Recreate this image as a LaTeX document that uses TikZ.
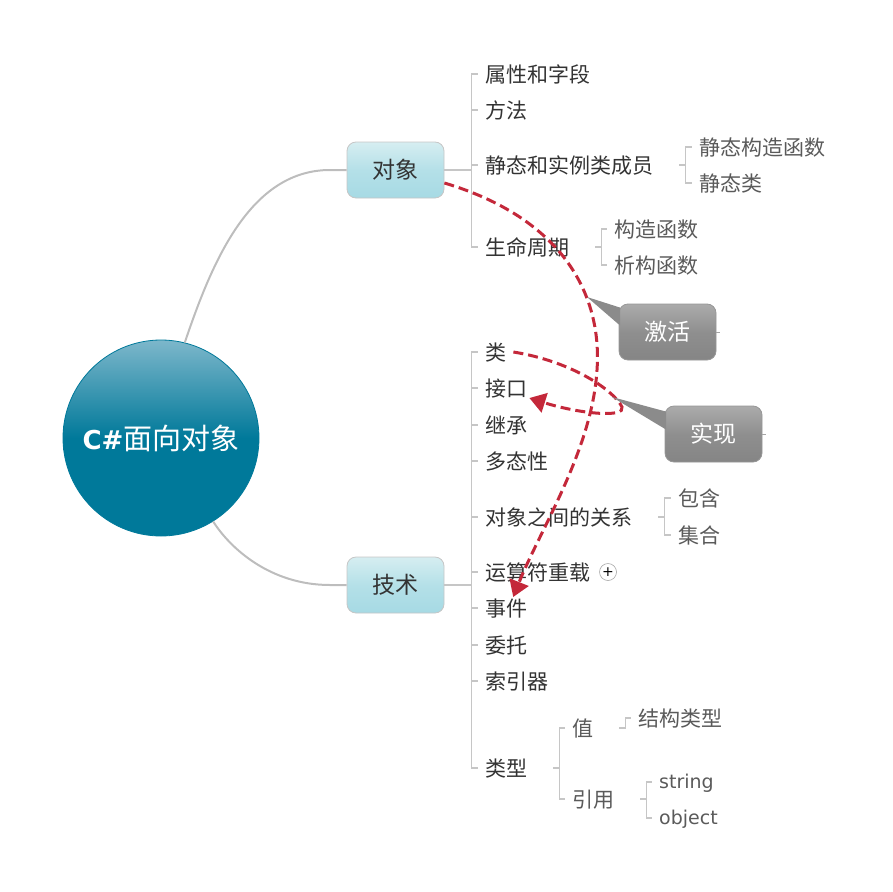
\documentclass[tikz,border=0pt]{standalone}
\usepackage{fontspec}
\setmainfont{DejaVu Sans}
\newfontfamily\cjkfont{Noto Sans CJK SC}
\usetikzlibrary{arrows.meta}

\definecolor{linegray}{HTML}{C6C6C6}
\definecolor{stemgray}{HTML}{BDBDBD}
\definecolor{textdark}{HTML}{333333}
\definecolor{textmid}{HTML}{5A5A5A}
\definecolor{relred}{HTML}{C4283A}
\definecolor{centertop}{HTML}{7DB7CB}
\definecolor{centerbot}{HTML}{00799A}
\definecolor{boxtop}{HTML}{D6EEF1}
\definecolor{boxbot}{HTML}{A6DAE4}
\definecolor{notetop}{HTML}{ABABAB}
\definecolor{notebot}{HTML}{858585}

\tikzset{
  topic/.style={anchor=west, inner sep=7pt, text=textdark,
    font=\cjkfont\fontsize{21}{24}\selectfont, text height=17pt, text depth=1pt},
  subtopic/.style={topic, text=textmid},
  latintopic/.style={subtopic, font=\fontsize{19}{22}\selectfont,
    text height=13pt, text depth=1pt},
  mainbox/.style={draw=linegray, line width=0.8pt, rounded corners=9pt,
    minimum width=97pt, minimum height=56pt,
    top color=boxtop, bottom color=boxbot, middle color=boxbot!70!boxtop,
    text=textdark, font=\cjkfont\fontsize{23}{26}\selectfont},
  notebox/.style={draw=notebot!85!white, line width=0.8pt, rounded corners=9pt,
    minimum width=97pt, minimum height=56pt,
    top color=notetop, bottom color=notebot, middle color=notebot!92!white,
    text=white, font=\cjkfont\fontsize{23}{26}\selectfont},
  expander/.style={circle, draw=gray!70, line width=0.6pt, minimum size=17pt,
    inner sep=0pt, fill=white, font=\fontsize{14}{14}\selectfont},
  branch/.style={draw=linegray, line width=1.2pt},
  stem/.style={draw=stemgray, line width=2pt},
  relation/.style={draw=relred, line width=3pt, dash pattern=on 10pt off 5pt,
    -{Triangle[length=16pt,width=20pt]}},
}

\begin{document}
\begin{tikzpicture}[x=1pt,y=-1pt]
  \useasboundingbox (0,0) rectangle (893,891);

  % Central topic and the two main branches.
  \node[circle, draw=centerbot, line width=0.8pt, minimum size=196pt, inner sep=0pt,
    top color=centertop, bottom color=centerbot, middle color=centerbot, text=white]
    (root) at (161,438)
    {{\bfseries\fontsize{26}{30}\selectfont C\#}{\cjkfont\fontsize{29}{32}\selectfont 面向对象}};
  \node[mainbox] (dx) at (395.5,170) {对象};
  \node[mainbox] (js) at (395.5,585) {技术};

  \draw[stem] (root.76) .. controls (212,262) and (250,170) .. (330,170) -- (dx.west);
  \draw[stem] (root.-58) .. controls (230,548) and (270,585) .. (330,585) -- (js.west);

  % First-level topics.
  \foreach \n/\y/\t in {sx/74/属性和字段, ff/110/方法, jtsl/165/静态和实例类成员,
      smzq/247/生命周期}
    \node[topic] (\n) at (478,\y) {\t};
  \foreach \n/\y/\t in {lei/352/类, jk/388/接口, jc/425/继承, dtx/461/多态性,
      gx/517/对象之间的关系, ysf/572/运算符重载, sj/608/事件, wt/645/委托,
      syq/681/索引器, lx/768/类型}
    \node[topic] (\n) at (478,\y) {\t};
  \node[expander] (ysfplus) at (608,572) {+};

  % Sub-topics.
  \foreach \n/\x/\y/\t in {jtgz/692/147/静态构造函数, jtl/692/183/静态类,
      gz/607/229/构造函数, xg/607/265/析构函数, bh/671/498/包含, jihe/671/535/集合,
      zhi/565/728/值, yy/565/799/引用, jg/631/718/结构类型}
    \node[subtopic] (\n) at (\x,\y) {\t};
  \node[latintopic] (str) at (652,782) {string};
  \node[latintopic] (obj) at (652,818) {object};

  % Brackets.
  \foreach \c in {sx,ff,jtsl,smzq}
    \draw[branch] (dx.east) -- ++(27,0) |- (\c.west);
  \foreach \c in {lei,jk,jc,dtx,gx,ysf,sj,wt,syq,lx}
    \draw[branch] (js.east) -- ++(27,0) |- (\c.west);
  \foreach \p/\c in {jtsl/jtgz, jtsl/jtl, smzq/gz, smzq/xg, gx/bh, gx/jihe,
      lx/zhi, lx/yy, zhi/jg, yy/str, yy/obj}
    \draw[branch] ([xshift=19pt]\p.east) -- ++(6,0) |- (\c.west);

  % Relations.
  \draw[relation] ([shift={(0,13)}]dx.east) .. controls (568,220) and (602,300) .. (597,370)
    .. controls (592,450) and (540,530) .. ([shift={(7,-11)}]sj.center);
  \draw[relation] (lei.east) .. controls (575,362) and (615,392) .. (622,407)
    .. controls (626,418) and (580,414) .. ([shift={(-5,10)}]jk.east);

  % Callouts on the relations.
  \node[notebox] (jihuo) at (667.5,332) {激活};
  \node[notebox] (shixian) at (713.5,434) {实现};
  \coordinate (jihuotip) at (587,297);
  \coordinate (shixiantip) at (612,397);
  \fill[notebot!95!white] (jihuotip) -- ([shift={(1.5,4)}]jihuo.north west)
    -- ([shift={(1.5,22)}]jihuo.north west) -- cycle;
  \fill[notebot!95!white] (shixiantip) -- ([shift={(1.5,6)}]shixian.north west)
    -- ([shift={(1.5,24)}]shixian.north west) -- cycle;
  \draw[draw=gray!70, line width=0.8pt] (jihuo.east) -- ++(4,0);
  \draw[draw=gray!70, line width=0.8pt] (shixian.east) -- ++(4,0);
\end{tikzpicture}
\end{document}
